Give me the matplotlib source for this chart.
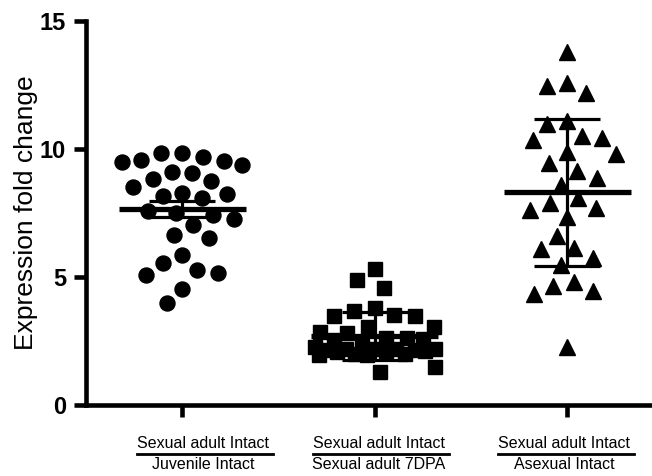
import numpy as np
import matplotlib
matplotlib.use("Agg")
import matplotlib.pyplot as plt
from matplotlib.lines import Line2D

plt.rcParams['font.family'] = ['Liberation Sans', 'DejaVu Sans']

# ---- data -------------------------------------------------------------
label_top = ["Sexual adult Intact", "Sexual adult Intact", "Sexual adult Intact"]
label_bottom = ["Juvenile Intact", "Sexual adult 7DPA", "Asexual Intact"]

juvenile_intact = [9.83, 9.70, 9.53, 9.83, 9.50, 9.57, 9.38, 9.11, 8.82, 8.50,
                   8.76, 9.07, 8.23, 8.10, 8.18, 8.29, 7.51, 7.42, 7.59, 7.03,
                   7.25, 6.51, 6.64, 5.86, 5.54, 5.14, 5.08, 5.27, 4.52, 3.97]

adult_7dpa = [5.31, 4.88, 4.58, 3.80, 3.68, 3.52, 3.48, 3.48, 3.06, 3.03,
              2.86, 2.80, 2.08, 2.15, 1.50, 1.30, 2.60, 2.55, 2.62, 2.58,
              2.25, 2.20, 2.15, 2.30, 2.20, 2.18, 2.00, 1.95, 2.00, 1.95,
              2.10, 2.20, 2.10]

asexual_intact = [13.80, 12.59, 12.20, 12.46, 11.11, 10.96, 10.51, 10.35, 10.42, 9.80,
                  9.88, 9.46, 9.15, 8.88, 8.59, 8.07, 7.90, 7.62, 7.68, 7.33,
                  6.61, 6.09, 6.12, 5.75, 5.47, 4.82, 4.46, 4.32, 4.65, 2.28]

error_kind = ["sem", "sd", "sd"]
y_ticks = [0, 5, 10, 15]

# ---- figure -----------------------------------------------------------
W, H = 652, 476
fig = plt.figure(figsize=(W / 100, H / 100), dpi=100)
ax = fig.add_axes([86 / W, 71 / H, 577.5 / W, 384 / H])
ax.set_xlim(0.5, 3.5)
ax.set_ylim(0, 15)

for s in ("top", "right"):
    ax.spines[s].set_visible(False)
for s in ("left", "bottom"):
    ax.spines[s].set_linewidth(3.3)
    ax.spines[s].set_capstyle("projecting")

ax.set_xticks([1, 2, 3])
ax.set_xticklabels(["", "", ""])
ax.set_yticks(y_ticks)
ax.set_yticklabels([str(t) for t in y_ticks], fontsize=17, fontweight="bold")
ax.tick_params(axis="both", direction="out", width=3.3, length=8.8, pad=5.5)

# pixel scale of the data axes
p0 = ax.transData.transform((0, 0))
p1 = ax.transData.transform((1, 1))
sx, sy = p1[0] - p0[0], p1[1] - p0[1]


def swarm_offsets(values, d, limit):
    """Horizontal offsets (pixels) so markers of spacing d don't collide."""
    y = np.asarray(values, dtype=float) * sy
    order = np.argsort(-y, kind="stable")
    xs = np.zeros(len(y))
    placed = []
    grid = np.linspace(-limit, limit, 161)
    for i in order:
        cands = [0.0]
        for j in placed:
            dy = y[i] - y[j]
            if abs(dy) < d:
                dx = np.sqrt(d * d - dy * dy)
                cands += [xs[j] - dx, xs[j] + dx]
        cands = sorted(set(cands), key=lambda c: (abs(c), c))
        chosen = None
        for c in cands:
            if abs(c) > limit:
                continue
            if all((c - xs[j]) ** 2 + (y[i] - y[j]) ** 2 >= d * d - 1e-6 for j in placed):
                chosen = c
                break
        if chosen is None:
            chosen = max(grid, key=lambda c: min((c - xs[j]) ** 2 + (y[i] - y[j]) ** 2
                                                  for j in placed))
        xs[i] = chosen
        placed.append(i)
    return xs


series = [juvenile_intact, adult_7dpa, asexual_intact]
markers = [("o", 10.8), ("s", 10.0), ("^", 11.0)]

for k, (vals, (m, ms), kind) in enumerate(zip(series, markers, error_kind)):
    pos = k + 1
    vals = np.asarray(vals)
    off = swarm_offsets(vals, d=21.0, limit=60.0) / sx
    ax.plot(pos + off, vals, ls="none", marker=m, ms=ms, color="black",
            mec="black", clip_on=False, zorder=3)
    mean = vals.mean()
    sd = vals.std(ddof=1)
    err = sd / np.sqrt(len(vals)) if kind == "sem" else sd
    ax.hlines(mean, pos - 0.33, pos + 0.33, color="black", lw=3.8, zorder=4)
    ax.errorbar(pos, mean, yerr=err, fmt="none", ecolor="black", elinewidth=2.3,
                capsize=23.5, capthick=2.3, zorder=4)

# ---- axis labels ------------------------------------------------------
fig.text(26 / W, 1 - 213 / H, "Expression fold change", rotation=90,
         ha="center", va="center", fontsize=19)

label_shift = [0.109, 0.02, -0.016]
renderer = fig.canvas.get_renderer()
for k in range(3):
    xc = ax.transData.transform((k + 1 + label_shift[k], 0))[0] / W
    t_top = fig.text(xc, 1 - 448 / H, label_top[k], ha="center", va="baseline",
                     fontsize=11.5)
    fig.text(xc, 1 - 469.3 / H, label_bottom[k], ha="center", va="baseline",
             fontsize=11.5)
    bb = t_top.get_window_extent(renderer)
    fig.add_artist(Line2D([bb.x0 / W, (bb.x1 + 4) / W],
                          [1 - 453.5 / H, 1 - 453.5 / H],
                          transform=fig.transFigure, color="black", lw=2.0))

fig.savefig("out.png", dpi=100)
